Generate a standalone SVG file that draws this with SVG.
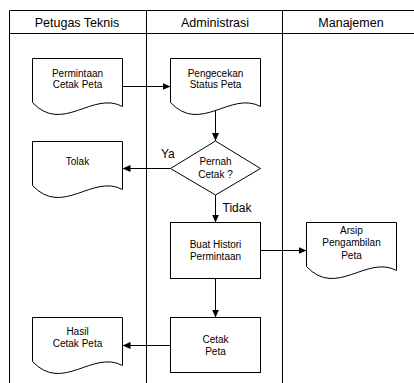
<svg xmlns="http://www.w3.org/2000/svg" xmlns:xlink="http://www.w3.org/1999/xlink" width="414" height="383" viewBox="0 0 414 383">
<style>
.frame{fill:none;stroke:#000;stroke-width:1}
.shape{fill:#fff;stroke:#000;stroke-width:1}
.conn{fill:none;stroke:#000;stroke-width:1}
.hdr{font-family:"Liberation Sans",Arial,sans-serif;font-size:12.5px;fill:#000;text-anchor:middle}
.lbl{font-family:"Liberation Sans",Arial,sans-serif;font-size:10px;fill:#000;text-anchor:middle}
.cl{font-family:"Liberation Sans",Arial,sans-serif;font-size:12px;fill:#000}
</style>
<defs>
<path id="doc" d="M0,0 H90 V48 C60,32 30,76 0,44 Z"/>
<marker id="ah" markerUnits="userSpaceOnUse" markerWidth="9" markerHeight="8" refX="8" refY="3.5" orient="auto">
<path d="M0,0 L8,3.5 L0,7 Z" fill="#000"/>
</marker>
</defs>
<rect width="414" height="383" fill="#fff"/>
<g id="lanes">
<path class="frame" d="M9.5,383 V10.5 H420 M9.5,33.5 H420 M146.5,10.5 V383 M282.5,10.5 V383"/>
<text class="hdr" x="77" y="26.5">Petugas Teknis</text>
<text class="hdr" x="215" y="26.5">Administrasi</text>
<text class="hdr" x="351" y="26.5">Manajemen</text>
</g>
<g id="connectors">
<line class="conn" x1="122.5" y1="86.5" x2="170.5" y2="86.5" marker-end="url(#ah)"/>
<line class="conn" x1="215.5" y1="110" x2="215.5" y2="141" marker-end="url(#ah)"/>
<line class="conn" x1="170" y1="168.5" x2="122.5" y2="168.5" marker-end="url(#ah)"/>
<line class="conn" x1="215.5" y1="195" x2="215.5" y2="222.5" marker-end="url(#ah)"/>
<line class="conn" x1="260.5" y1="250.5" x2="306.5" y2="250.5" marker-end="url(#ah)"/>
<line class="conn" x1="215.5" y1="278.5" x2="215.5" y2="317.5" marker-end="url(#ah)"/>
<line class="conn" x1="170.5" y1="345.5" x2="122.5" y2="345.5" marker-end="url(#ah)"/>
<text class="cl" x="161" y="157.5">Ya</text>
<text class="cl" x="222.5" y="211.5">Tidak</text>
</g>
<g id="permintaan">
<use xlink:href="#doc" href="#doc" class="shape" x="32.5" y="58.5"/>
<text class="lbl" x="77.5" y="76.5">Permintaan</text>
<text class="lbl" x="77.5" y="88">Cetak Peta</text>
</g>
<g id="pengecekan">
<use xlink:href="#doc" href="#doc" class="shape" x="170.5" y="58.5"/>
<text class="lbl" x="215.5" y="76.5">Pengecekan</text>
<text class="lbl" x="215.5" y="88">Status Peta</text>
</g>
<g id="pernah">
<polygon class="shape" points="215.5,141 260.5,168.5 215.5,195 170.5,168.5"/>
<text class="lbl" x="215.5" y="165">Pernah</text>
<text class="lbl" x="215.5" y="177.5">Cetak ?</text>
</g>
<g id="tolak">
<use xlink:href="#doc" href="#doc" class="shape" x="32.5" y="141.5"/>
<text class="lbl" x="77.5" y="165.3">Tolak</text>
</g>
<g id="historian">
<rect class="shape" x="170.5" y="222.5" width="90" height="56"/>
<text class="lbl" x="215.5" y="247.5">Buat Histori</text>
<text class="lbl" x="215.5" y="260">Permintaan</text>
</g>
<g id="arsip">
<use xlink:href="#doc" href="#doc" class="shape" x="306.5" y="222.5"/>
<text class="lbl" x="351.5" y="233.5">Arsip</text>
<text class="lbl" x="351.5" y="246">Pengambilan</text>
<text class="lbl" x="351.5" y="258.5">Peta</text>
</g>
<g id="cetak">
<rect class="shape" x="170.5" y="317.5" width="90" height="55"/>
<text class="lbl" x="215.5" y="342.5">Cetak</text>
<text class="lbl" x="215.5" y="354.5">Peta</text>
</g>
<g id="hasil">
<use xlink:href="#doc" href="#doc" class="shape" x="32.5" y="317.5"/>
<text class="lbl" x="77.5" y="334.5">Hasil</text>
<text class="lbl" x="77.5" y="347">Cetak Peta</text>
</g>
</svg>
